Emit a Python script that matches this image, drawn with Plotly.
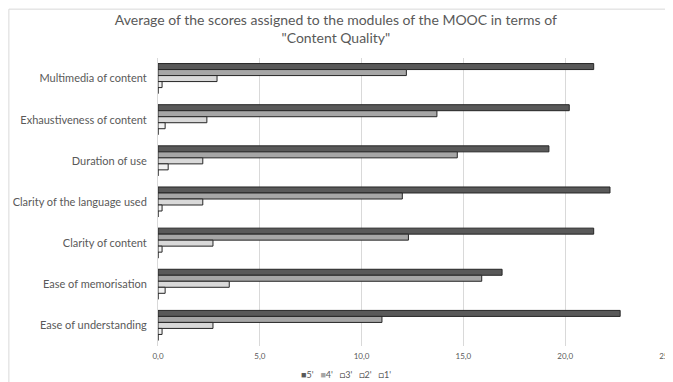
import plotly.graph_objects as go

categories = ["Multimedia of content", "Exhaustiveness of content", "Duration of use",
              "Clarity of the language used", "Clarity of content", "Ease of memorisation",
              "Ease of understanding"]
series_names = ["5'", "4'", "3'", "2'", "1'"]
s5 = [21.4, 20.2, 19.2, 22.2, 21.4, 16.9, 22.7]
s4 = [12.2, 13.7, 14.7, 12.0, 12.3, 15.9, 11.0]
s3 = [2.9, 2.4, 2.2, 2.2, 2.7, 3.5, 2.7]
s2 = [0.2, 0.35, 0.5, 0.2, 0.2, 0.35, 0.2]
s1 = [0.0, 0.0, 0.0, 0.0, 0.0, 0.0, 0.0]
values = [s5, s4, s3, s2, s1]
fills = ["#595959", "#a6a6a6", "#d9d9d9", "#f2f2f2", "#ffffff"]

fig = go.Figure()
for name, vals, col in zip(series_names, values, fills):
    fig.add_trace(go.Bar(
        y=categories, x=vals, name=name, orientation="h",
        marker=dict(color=col, line=dict(color="#262626", width=1)),
    ))

# compact legend drawn as text with square glyphs
legend_parts = []
for name, col in zip(series_names, fills):
    if col in ("#ffffff", "#f2f2f2", "#d9d9d9"):
        glyph = "<span style='color:#262626'>□</span>"
    else:
        glyph = f"<span style='color:{col}'>■</span>"
    legend_parts.append(f"{glyph}{name}")
legend_text = "&nbsp;&nbsp;&nbsp;".join(legend_parts)

fig.update_layout(
    width=665, height=374,
    margin=dict(l=150, r=6, t=49.5, b=35.5),
    paper_bgcolor="white", plot_bgcolor="white",
    barmode="group", bargap=0.27, bargroupgap=0,
    font=dict(family="Lato", color="#595959"),
    title=dict(text="Average of the scores assigned to the modules of the MOOC in terms of<br>\"Content Quality\"",
               x=0.493, xanchor="center", y=0.9545, yanchor="top",
               font=dict(size=14, color="#595959", family="Lato")),
    showlegend=False,
    annotations=[dict(text=legend_text, xref="paper", yref="paper", x=0.37, y=-0.0986,
                      xanchor="center", yanchor="middle", showarrow=False,
                      font=dict(size=9, color="#595959", family="Lato"))],
    shapes=[
        dict(type="rect", xref="paper", yref="paper", x0=-0.293, x1=1.03, y0=-0.25, y1=1.1696,
             line=dict(color="#d9d9d9", width=1), fillcolor="rgba(0,0,0,0)", layer="below"),
        dict(type="line", xref="x", yref="paper", x0=24.97, x1=24.97, y0=0, y1=1,
             line=dict(color="#d9d9d9", width=1), layer="below"),
    ],
    separators=",.",
)
fig.update_xaxes(range=[0, 25], dtick=5, tickformat=".1f", automargin=False,
                 ticklabeloverflow="allow",
                 showgrid=True, gridcolor="#d9d9d9", gridwidth=1, zeroline=False,
                 tickfont=dict(size=8, color="#595959"), showline=False,
                 ticks="outside", ticklen=2, tickcolor="rgba(0,0,0,0)")
fig.update_yaxes(autorange="reversed", showline=True, linecolor="#d9d9d9", automargin=False,
                 tickfont=dict(size=11, color="#595959"),
                 ticks="outside", ticklen=8, tickcolor="rgba(0,0,0,0)")

fig.write_html("out.html")
